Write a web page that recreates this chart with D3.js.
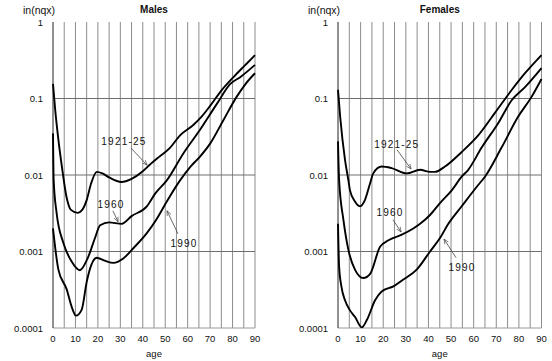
<!DOCTYPE html>
<html>
<head>
<meta charset="utf-8">
<script src="https://cdn.jsdelivr.net/npm/d3@7"></script>
<style>
  body { margin: 0; background: #fff; }
  svg text { font-family: "Liberation Sans", Arial, sans-serif; fill: #111; }
  .tick-label { font-size: 9.5px; }
  .panel-title { font-size: 10px; font-weight: bold; }
  .axis-name { font-size: 10.5px; }
  .series-label { font-size: 10px; letter-spacing: 1.2px; }
</style>
</head>
<body>
<div id="chart"></div>
<script>
// ---- data ----
const panels = ['Males', 'Females'];
const seriesNames = ['1921-25', '1960', '1990'];

const xTicks = [0, 10, 20, 30, 40, 50, 60, 70, 80, 90];
const yTicks = [1, 0.1, 0.01, 0.001, 0.0001];
const yTickLabels = ['1', '0.1', '0.01', '0.001', '0.0001'];

// Males
const males1921Age = [0, 1, 2.4, 4, 6, 8, 11, 13, 15, 17, 19.5, 22, 25, 30.5, 35, 40, 43, 47, 52, 56.6, 62.5, 66, 70, 75, 80, 84, 87, 90];
const males1921 = [0.155, 0.07, 0.029, 0.0126, 0.0052, 0.0035, 0.0032, 0.0035, 0.0047, 0.0078, 0.011, 0.0105, 0.0093, 0.0081, 0.0089, 0.0112, 0.0135, 0.017, 0.0224, 0.033, 0.045, 0.057, 0.08, 0.127, 0.185, 0.245, 0.3, 0.37];

const males1960Age = [0, 0.3, 1.6, 4.6, 8.3, 12, 15.7, 18.7, 21, 25, 30.6, 35, 41.8, 45.5, 50.7, 58, 65.5, 73, 79, 83.4, 90];
const males1960 = [0.035, 0.0085, 0.0032, 0.0013, 0.00074, 0.00057, 0.00085, 0.0015, 0.0022, 0.0024, 0.0023, 0.0029, 0.0039, 0.0057, 0.0085, 0.019, 0.039, 0.085, 0.155, 0.19, 0.275];

const males1990Age = [0, 2.4, 6.1, 8.3, 10.2, 12.8, 15, 17, 19.5, 23, 26.9, 31.3, 36, 41.8, 46, 50.7, 56.6, 61, 65.5, 70, 75.9, 81.8, 86, 90];
const males1990 = [0.002, 0.00058, 0.00032, 0.00019, 0.000145, 0.000174, 0.0004, 0.00066, 0.00083, 0.00076, 0.00071, 0.00081, 0.00112, 0.00174, 0.0026, 0.0045, 0.0085, 0.0126, 0.0174, 0.0257, 0.052, 0.105, 0.158, 0.214];

// Females
const females1921Age = [0, 1, 3.1, 4.6, 5.3, 7.5, 9.7, 11.9, 14.2, 15.6, 19.3, 23.7, 30.4, 36.3, 40.7, 42.9, 47.3, 54.7, 62, 69.4, 76.8, 82.7, 90];
const females1921 = [0.13, 0.056, 0.0158, 0.0085, 0.0063, 0.0045, 0.0039, 0.0047, 0.0078, 0.0105, 0.0129, 0.0123, 0.0105, 0.0117, 0.011, 0.011, 0.0129, 0.02, 0.033, 0.065, 0.129, 0.214, 0.37];

const females1960Age = [0, 0.5, 2.4, 4.6, 7.5, 11.2, 14.2, 18.6, 22.3, 28.2, 33.3, 36.3, 40.7, 45.1, 50.3, 54.7, 57.6, 63.6, 70.9, 76.8, 82.7, 90];
const females1960 = [0.0275, 0.0085, 0.0026, 0.00105, 0.00058, 0.00045, 0.00051, 0.00115, 0.0014, 0.00166, 0.002, 0.0023, 0.003, 0.0043, 0.0063, 0.0095, 0.0117, 0.023, 0.048, 0.095, 0.141, 0.25];

const females1990Age = [0, 0.5, 1.5, 3.1, 5.3, 7.5, 10.5, 12.7, 16.4, 19.3, 24.5, 28.9, 34.8, 40.7, 45.1, 48.8, 54.7, 62, 65, 72.4, 79.7, 85.6, 90];
const females1990 = [0.0023, 0.00063, 0.00035, 0.00023, 0.00017, 0.00014, 0.000102, 0.000126, 0.00023, 0.0003, 0.00035, 0.00043, 0.00058, 0.001, 0.0015, 0.0023, 0.0039, 0.0074, 0.0095, 0.023, 0.058, 0.105, 0.18];

// label text position (age, value), arrow tail and arrow head (age, value)
const labelAges = {
  Males:   [[31.6, 0.0278, 34.8, 0.0224, 41.9, 0.0135], [25.8, 0.0042, 26.7, 0.0034, 29, 0.00245], [58.4, 0.0013, 55.7, 0.0017, 50.8, 0.0034]],
  Females: [[26, 0.0254, 26.1, 0.0214, 32.3, 0.012], [23, 0.0033, 24.3, 0.0026, 27.9, 0.0018], [54.8, 0.00063, 52.2, 0.00083, 46.9, 0.00145]]
};

const panelData = {
  Males: [[males1921Age, males1921], [males1960Age, males1960], [males1990Age, males1990]],
  Females: [[females1921Age, females1921], [females1960Age, females1960], [females1990Age, females1990]]
};

// ---- layout ----
const width = 552, height = 361;
const plotTop = 22, plotBottom = 328;
const panelX = { Males: [53, 255], Females: [338, 541.5] };

const svg = d3.select('#chart').append('svg')
  .attr('width', width)
  .attr('height', height);

svg.append('defs').append('marker')
  .attr('id', 'arrowhead')
  .attr('viewBox', '0 0 8 8')
  .attr('refX', 7).attr('refY', 4)
  .attr('markerWidth', 7).attr('markerHeight', 7)
  .attr('orient', 'auto')
  .append('path')
  .attr('d', 'M0,1 L7,4 L0,7')
  .attr('fill', 'none')
  .attr('stroke', '#444')
  .attr('stroke-width', 0.9);

const y = d3.scaleLog().domain([0.0001, 1]).range([plotBottom, plotTop]);

panels.forEach(name => {
  const x = d3.scaleLinear().domain([0, 90]).range(panelX[name]);
  const g = svg.append('g');

  // vertical grid every 5 years
  g.selectAll('.vgrid')
    .data(d3.range(5, 91, 5))
    .enter().append('line')
    .attr('x1', d => x(d)).attr('x2', d => x(d))
    .attr('y1', plotTop).attr('y2', plotBottom)
    .attr('stroke', '#8c8c8c')
    .attr('stroke-width', 1);

  // horizontal grid at decades
  g.selectAll('.hgrid')
    .data([0.1, 0.01, 0.001])
    .enter().append('line')
    .attr('x1', x(0)).attr('x2', x(90))
    .attr('y1', d => y(d)).attr('y2', d => y(d))
    .attr('stroke', '#6e6e6e')
    .attr('stroke-width', 1);

  // bottom and left axis lines
  g.append('line')
    .attr('x1', x(0)).attr('x2', x(90))
    .attr('y1', y(0.0001)).attr('y2', y(0.0001))
    .attr('stroke', '#9a9a9a');
  g.append('line')
    .attr('x1', x(0)).attr('x2', x(0))
    .attr('y1', plotTop).attr('y2', plotBottom)
    .attr('stroke', '#222');

  // y tick labels
  g.selectAll('.ylab')
    .data(yTicks)
    .enter().append('text')
    .attr('class', 'tick-label')
    .attr('x', x(0) - 10)
    .attr('y', d => y(d) + 3.5)
    .attr('text-anchor', 'end')
    .text((d, i) => yTickLabels[i]);

  // x tick labels
  g.selectAll('.xlab')
    .data(xTicks)
    .enter().append('text')
    .attr('class', 'tick-label')
    .attr('x', d => x(d))
    .attr('y', plotBottom + 14)
    .attr('text-anchor', 'middle')
    .text(d => d);

  g.append('text')
    .attr('class', 'tick-label')
    .attr('x', (x(0) + x(90)) / 2)
    .attr('y', plotBottom + 29)
    .attr('text-anchor', 'middle')
    .attr('font-size', '10px')
    .text('age');

  g.append('text')
    .attr('class', 'axis-name')
    .attr('x', x(0) - 30)
    .attr('y', 14)
    .text('in(nqx)');

  g.append('text')
    .attr('class', 'panel-title')
    .attr('x', (x(0) + x(90)) / 2)
    .attr('y', 13)
    .attr('text-anchor', 'middle')
    .text(name);

  // curves
  const line = d3.line()
    .x(d => x(d[0]))
    .y(d => y(d[1]))
    .curve(d3.curveMonotoneX);

  panelData[name].forEach(([ages, vals]) => {
    const pts = ages.map((a, i) => [a, vals[i]]);
    g.append('path')
      .datum(pts)
      .attr('d', line)
      .attr('fill', 'none')
      .attr('stroke', '#000')
      .attr('stroke-width', 1.9)
      .attr('stroke-linejoin', 'round');
  });

  // series labels with arrows
  labelAges[name].forEach((a, i) => {
    g.append('text')
      .attr('class', 'series-label')
      .attr('x', x(a[0]))
      .attr('y', y(a[1]) + 4)
      .attr('text-anchor', 'middle')
      .text(seriesNames[i]);
    g.append('line')
      .attr('x1', x(a[2])).attr('y1', y(a[3]))
      .attr('x2', x(a[4])).attr('y2', y(a[5]))
      .attr('stroke', '#444')
      .attr('stroke-width', 0.8)
      .attr('marker-end', 'url(#arrowhead)');
  });
});
</script>
</body>
</html>
